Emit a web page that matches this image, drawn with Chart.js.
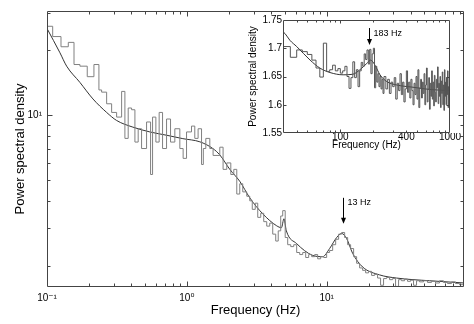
<!DOCTYPE html>
<html><head><meta charset="utf-8">
<script src="https://cdn.jsdelivr.net/npm/chart.js@4.4.1/dist/chart.umd.min.js"></script>
<style>
html,body{margin:0;padding:0;background:#fff;}
#wrap{position:relative;width:474px;height:324px;overflow:hidden;}
#main{position:absolute;left:0;top:0;}
#inset{position:absolute;left:236px;top:0;}
</style></head>
<body><div id="wrap">
<canvas id="main" width="474" height="324" style="width:474px;height:324px"></canvas>
<canvas id="inset" width="236" height="152" style="width:236px;height:152px"></canvas>
</div>
<script>
// ---------- MAIN PANEL DATA ----------
const mainFreq = [0.1, 0.1098, 0.1259, 0.142, 0.156, 0.172, 0.194, 0.2166, 0.2351, 0.2458, 0.267, 0.2899, 0.3147, 0.3417, 0.3607, 0.3808, 0.4027, 0.4253, 0.4488, 0.4746, 0.5153, 0.5505, 0.5689, 0.6006, 0.634, 0.6705, 0.7161, 0.7648, 0.8208, 0.8913, 0.941, 0.9952, 1.08, 1.14, 1.204, 1.274, 1.312, 1.367, 1.46, 1.541, 1.721, 1.817, 1.931, 2.063, 2.167, 2.276, 2.391, 2.512, 2.683, 2.818, 2.937, 3.085, 3.215, 3.378, 3.548, 3.728, 3.917, 4.115, 4.323, 4.505, 4.693, 4.85, 5.053, 5.265, 5.534, 5.814, 6.105, 6.415, 6.741, 7.079, 7.436, 7.815, 8.21, 8.625, 9.061, 9.519, 10.0, 10.5, 11.04, 11.6, 12.18, 12.8, 13.45, 14.13, 14.84, 15.59, 16.38, 17.21, 18.08, 18.99, 19.95, 20.96, 22.02, 23.13, 24.3, 25.53, 26.83, 28.18, 29.61, 31.11, 32.68, 34.33, 36.07, 37.89, 39.81, 41.82, 43.94, 46.16, 49.3, 52.66, 56.23, 60.05, 64.15, 68.5, 73.16, 78.15, 83.45, 89.13, 96];
const mainPSD = [25.9, 23.2, 20.8, 21.8, 17.2, 16.9, 15.1, 17.2, 13.1, 12.8, 11.3, 10.3, 9.8, 12.9, 7.8, 10.8, 10.6, 7.5, 8.65, 7.0, 9.3, 5.3, 9.8, 7.5, 10.3, 7.0, 9.6, 7.5, 8.65, 7.0, 6.3, 8.36, 8.9, 7.8, 8.65, 5.9, 7.0, 7.8, 7.0, 6.5, 7.1, 5.6, 6.0, 5.3, 5.6, 4.3, 4.8, 4.4, 4.2, 4.0, 3.65, 3.9, 3.35, 3.5, 3.2, 3.05, 3.15, 2.8, 2.6, 2.9, 3.4, 3.6, 2.7, 2.5, 2.45, 2.5, 2.3, 2.25, 2.3, 2.18, 2.25, 2.2, 2.25, 2.15, 2.2, 2.18, 2.3, 2.35, 2.5, 2.65, 2.8, 2.85, 2.7, 2.5, 2.4, 2.2, 2.05, 1.95, 1.9, 1.85, 1.88, 1.8, 1.82, 1.75, 1.62, 1.74, 1.76, 1.72, 1.74, 1.6, 1.72, 1.7, 1.73, 1.69, 1.71, 1.62, 1.7, 1.68, 1.7, 1.67, 1.69, 1.66, 1.7, 1.67, 1.65, 1.68, 1.65, 1.63, 1.63];
const modelFreq = [0.1, 0.1238, 0.1382, 0.172, 0.2131, 0.267, 0.3147, 0.4115, 0.544, 0.7161, 0.9363, 1.24, 1.534, 1.72, 2.03, 2.39, 2.82, 3.49, 4.394, 4.75, 4.95, 5.15, 6.1, 7.94, 9.363, 10.5, 11.79, 12.8, 13.9, 15.34, 18.08, 23.9, 31.6, 54.4, 96];
const modelPSD = [25.3, 19.5, 16.9, 14.2, 11.9, 10.3, 9.45, 8.8, 8.36, 8.07, 7.78, 7.52, 7.0, 6.54, 5.6, 4.93, 4.13, 3.48, 3.06, 3.0, 3.3, 2.9, 2.53, 2.23, 2.2, 2.4, 2.7, 2.82, 2.67, 2.28, 1.97, 1.81, 1.75, 1.70, 1.66];
const mainXTickValues = [0.1, 1, 10];
const mainXTickLabels = ['10\u207B\u00B9', '10\u2070', '10\u00B9'];
const mainYTickValues = [10];
const mainYTickLabels = ['10\u00B9'];
const mainXMinor = [0.2,0.3,0.4,0.5,0.6,0.7,0.8,0.9,2,3,4,5,6,7,8,9,20,30,40,50,60,70,80,90];
const mainXMajor = [1, 10];
const mainYMinor = [2,3,4,5,6,7,8,9,20,30];
const mainYMajor = [10];
const mainPeakLabel = '13 Hz';
const mainPeakFreq = 13;

// ---------- INSET DATA ----------
const insetFreq = [30,35,40,45,50,55,60,65,70,75,80,85,90,95,100,105,110,115,120,125,130,135,140,145,150,155,160,165,170,175,180,185,190,195,200,205,210,215,220,225,230,235,240,245,
250,260,270,280,290,300,310,320,330,340,350,360,370,380,390,400,410,420,430,440,450,460,470,480,490,500,510,520,530,540,550,560,570,580,590,600,610,620,630,640,650,660,670,680,690,700,710,720,730,740,750,760,770,780,790,800,810,820,830,840,850,860,870,880,890,900,910,920,930,940,950,960,970,980,990,1000];
const insetPSD = [1.703,1.684,1.697,1.694,1.689,1.679,1.665,1.649,1.709,1.659,1.662,1.670,1.660,1.664,1.656,1.660,1.668,1.650,1.629,1.648,1.676,1.648,1.662,1.632,1.660,1.675,1.668,1.690,1.680,1.697,1.672,1.698,1.655,1.690,1.700,1.630,1.668,1.640,1.655,1.632,1.650,1.628,1.645,1.620,
1.650,1.628,1.645,1.620,1.640,1.632,1.648,1.610,1.638,1.625,1.655,1.618,1.640,1.605,1.628,1.660,1.622,1.640,1.612,1.645,1.625,1.600,1.638,1.618,1.650,1.610,1.662,1.595,1.630,1.645,1.612,1.640,1.620,1.655,1.600,1.635,1.665,1.605,1.628,1.648,1.592,1.638,1.615,1.660,1.610,1.640,1.598,1.652,1.622,1.605,1.645,1.630,1.667,1.602,1.638,1.615,1.650,1.595,1.642,1.620,1.658,1.600,1.635,1.590,1.662,1.615,1.640,1.600,1.648,1.618,1.660,1.595,1.632,1.612,1.650,1.620];
const insetModelFreq = [30, 31.3, 34.7, 40, 53, 65, 80.5, 106, 130, 151, 174, 189, 207, 230, 265, 327, 460, 657, 1000];
const insetModelPSD = [1.729, 1.726, 1.714, 1.703, 1.679, 1.665, 1.657, 1.653, 1.654, 1.662, 1.673, 1.679, 1.670, 1.653, 1.641, 1.635, 1.631, 1.627, 1.625];
const insetXTickValues = [100, 400, 1000];
const insetXTickLabels = ['100', '400', '1000'];
const insetYTickValues = [1.55, 1.6, 1.65, 1.7, 1.75];
const insetYTickLabels = ['1.55', '1.6', '1.65', '1.7', '1.75'];
const insetXMinor = [40,50,60,70,80,90,200,300,400,500,600,700,800,900];
const insetXMajor = [100];
const insetYMajor = [1.6, 1.65, 1.7];
const insetPeakLabel = '183 Hz';
const insetPeakFreq = 183;

const FONT = '"Liberation Sans", Arial, Helvetica, "DejaVu Sans", sans-serif';
Chart.defaults.font.family = FONT;
Chart.defaults.color = '#000';

function pts(xs, ys){ return xs.map((x,i)=>({x:x, y:ys[i]})); }

const frameTicks = {
  id: 'frameTicks',
  afterDatasetsDraw(chart, args, o){
    const ctx = chart.ctx, a = chart.chartArea, xs = chart.scales.x, ys = chart.scales.y;
    const L = Math.round(a.left)+0.5, R = Math.round(a.right)-0.5, T = Math.round(a.top)+0.5, B = Math.round(a.bottom)-0.5;
    ctx.save();
    ctx.strokeStyle = o.color; ctx.lineWidth = 1;
    ctx.beginPath();
    ctx.rect(L, T, R-L, B-T);
    const xt = (vals, len) => vals.forEach(v => {
      const p = Math.round(xs.getPixelForValue(v)) + 0.5;
      if (p <= L || p >= R) return;
      ctx.moveTo(p, B); ctx.lineTo(p, B-len);
      ctx.moveTo(p, T); ctx.lineTo(p, T+len);
    });
    const yt = (vals, len) => vals.forEach(v => {
      const p = Math.round(ys.getPixelForValue(v)) + 0.5;
      if (p <= T || p >= B) return;
      ctx.moveTo(L, p); ctx.lineTo(L+len, p);
      ctx.moveTo(R, p); ctx.lineTo(R-len, p);
    });
    xt(o.xMinor, o.minor); xt(o.xMajor, o.major);
    yt(o.yMinor, o.minor); yt(o.yMajor, o.major);
    ctx.stroke();
    // peak annotation arrow
    const ax = Math.round(xs.getPixelForValue(o.peakFreq)) + 0.5;
    const yTip = ys.getPixelForValue(o.arrowTip);
    const yTop = ys.getPixelForValue(o.arrowTop);
    ctx.strokeStyle = '#000'; ctx.fillStyle = '#000';
    ctx.beginPath(); ctx.moveTo(ax, yTop); ctx.lineTo(ax, yTip-5); ctx.stroke();
    ctx.beginPath(); ctx.moveTo(ax-2.5, yTip-6); ctx.lineTo(ax+2.5, yTip-6); ctx.lineTo(ax, yTip); ctx.closePath(); ctx.fill();
    ctx.font = '9px ' + FONT; ctx.textBaseline = 'middle'; ctx.textAlign = 'left';
    ctx.fillText(o.peakLabel, ax + 4, yTop + 5);
    ctx.restore();
  }
};

new Chart(document.getElementById('main'), {
  type: 'line',
  data: { datasets: [
    { data: pts(mainFreq, mainPSD), stepped: true, borderColor: '#808080', borderWidth: 1, pointRadius: 0, fill: false },
    { data: pts(modelFreq, modelPSD), borderColor: '#333', borderWidth: 1, pointRadius: 0, fill: false, cubicInterpolationMode: 'monotone' }
  ]},
  options: {
    responsive: false, animation: false, events: [],
    layout: { padding: { left: 0, right: 10, top: 7, bottom: 0 } },
    plugins: { legend: { display: false }, tooltip: { enabled: false },
      frameTicks: { color: '#444', minor: 3, major: 5, xMinor: mainXMinor, xMajor: mainXMajor, yMinor: mainYMinor, yMajor: mainYMajor,
        peakFreq: mainPeakFreq, peakLabel: mainPeakLabel, arrowTop: 4.13, arrowTip: 3.13 } },
    scales: {
      x: { type: 'logarithmic', min: 0.1, max: 96, position: 'bottom',
        grid: { display: false, drawTicks: false }, border: { display: false },
        afterBuildTicks: s => { s.ticks = mainXTickValues.map(v => ({ value: v })); },
        afterFit: s => { s.height = 37; },
        ticks: { autoSkip: false, maxRotation: 0, minRotation: 0, padding: 5, color: '#000', font: { size: 10 },
          callback: (v, i) => mainXTickLabels[i] },
        title: { display: true, text: 'Frequency (Hz)', color: '#000', font: { size: 13 }, padding: { top: 0, bottom: 6 } } },
      y: { type: 'logarithmic', min: 1.59, max: 30.5, position: 'left',
        grid: { display: false, drawTicks: false }, border: { display: false },
        afterBuildTicks: s => { s.ticks = mainYTickValues.map(v => ({ value: v })); },
        afterFit: s => { s.width = 47; },
        ticks: { autoSkip: false, padding: 5, color: '#000', font: { size: 10 },
          callback: (v, i) => mainYTickLabels[i] },
        title: { display: true, text: 'Power spectral density', color: '#000', font: { size: 13 }, padding: { top: 13, bottom: 0 } } }
    }
  },
  plugins: [frameTicks]
});

new Chart(document.getElementById('inset'), {
  type: 'line',
  data: { datasets: [
    { data: pts(insetFreq, insetPSD), stepped: true, borderColor: '#555', borderWidth: 1, pointRadius: 0, fill: false },
    { data: pts(insetModelFreq, insetModelPSD), borderColor: '#333', borderWidth: 1, pointRadius: 0, fill: false, cubicInterpolationMode: 'monotone' }
  ]},
  options: {
    responsive: false, animation: false, events: [],
    layout: { padding: { left: 0, right: 22, top: 20, bottom: 0 } },
    plugins: { legend: { display: false }, tooltip: { enabled: false },
      frameTicks: { color: '#444', minor: 2, major: 3, xMinor: insetXMinor, xMajor: insetXMajor, yMinor: [], yMajor: insetYMajor,
        peakFreq: insetPeakFreq, peakLabel: insetPeakLabel, arrowTop: 1.7358, arrowTip: 1.7058 } },
    scales: {
      x: { type: 'logarithmic', min: 30, max: 1000, position: 'bottom',
        grid: { display: false, drawTicks: false }, border: { display: false },
        afterBuildTicks: s => { s.ticks = insetXTickValues.map(v => ({ value: v })); },
        afterFit: s => { s.height = 19; },
        ticks: { autoSkip: false, maxRotation: 0, minRotation: 0, padding: -2, color: '#000', font: { size: 10 },
          callback: (v, i) => insetXTickLabels[i] },
        title: { display: true, text: 'Frequency (Hz)', color: '#000', font: { size: 10 }, padding: { top: 0, bottom: 1 } } },
      y: { type: 'linear', min: 1.55, max: 1.75, position: 'left',
        grid: { display: false, drawTicks: false }, border: { display: false },
        afterBuildTicks: s => { s.ticks = insetYTickValues.map(v => ({ value: v })); },
        afterFit: s => { s.width = 47; },
        ticks: { autoSkip: false, padding: 1, color: '#000', font: { size: 10 },
          callback: (v, i) => insetYTickLabels[i] },
        title: { display: true, text: 'Power spectral density', color: '#000', font: { size: 10 }, padding: { top: 11, bottom: 0 } } }
    }
  },
  plugins: [frameTicks]
});
</script>
</body></html>
